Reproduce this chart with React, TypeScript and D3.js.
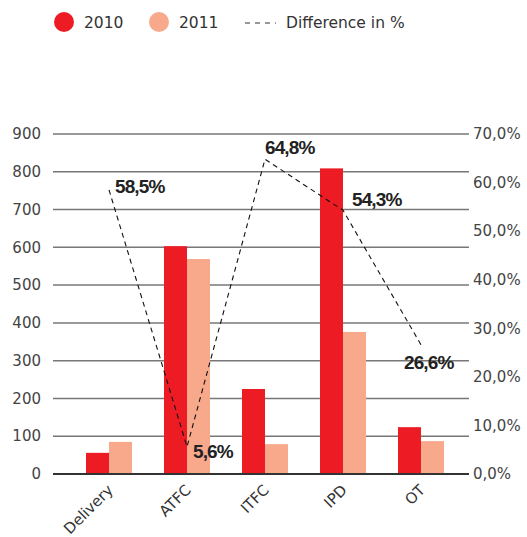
import React from "react";
import * as d3 from "d3";

const categories = ["Delivery", "ATFC", "ITFC", "IPD", "OT"];
const values2010 = [56, 603, 225, 809, 124];
const values2011 = [85, 569, 79, 376, 87];
const diffPct = [58.5, 5.6, 64.8, 54.3, 26.6];
const leftTicks = [0, 100, 200, 300, 400, 500, 600, 700, 800, 900];
const rightTicks = [0, 10, 20, 30, 40, 50, 60, 70];
const labelOffsets: [number, number][] = [[6, 3], [6, 11], [0, -5], [9, -4], [-17, 24]];

const W = 527, H = 537;
const RED = "#ED1C24", SALMON = "#F8A98C";

export default function App() {
  const y = d3.scaleLinear().domain([0, 900]).range([474, 134]);
  const yR = d3.scaleLinear().domain([0, 70]).range([474, 134]);
  const x = d3.scaleBand().domain(categories).range([70, 460]).paddingInner(0.41).paddingOuter(0.205);
  const bw = 23;
  const cx = (c: string) => (x(c) as number) + x.bandwidth() / 2;
  const line = d3.line<number>().x((_, i) => cx(categories[i])).y((d) => yR(d));
  const fmt = (v: number) => v.toFixed(1).replace(".", ",") + "%";
  const font = "'DejaVu Sans', sans-serif";
  return (
    <svg width={W} height={H} style={{ position: "absolute", left: 0, top: 0, background: "#fff" }} fontFamily={font}>
      {/* legend */}
      <circle cx={64} cy={22} r={10} fill={RED} />
      <text x={84} y={28} fontSize={15.5} fill="#333">2010</text>
      <circle cx={159} cy={22} r={10} fill={SALMON} />
      <text x={179} y={28} fontSize={15.5} fill="#333">2011</text>
      <line x1={245} x2={276} y1={23} y2={23} stroke="#333" strokeWidth={1.2} strokeDasharray="5,5" />
      <text x={286} y={28} fontSize={15.5} fill="#333">Difference in %</text>
      {/* grid */}
      {leftTicks.map((t) => (
        <g key={t}>
          <line x1={53} x2={469} y1={y(t)} y2={y(t)} stroke={t === 0 ? "#333" : "#777"} strokeWidth={t === 0 ? 2 : 1.5} />
          <text x={41} y={y(t)} dy="0.35em" textAnchor="end" fontSize={15} fill="#444">{t}</text>
        </g>
      ))}
      {rightTicks.map((t) => (
        <text key={t} x={473} y={yR(t)} dy="0.35em" fontSize={15} fill="#444">{fmt(t)}</text>
      ))}
      {/* bars */}
      {categories.map((c, i) => (
        <g key={c}>
          <rect x={cx(c) - bw} y={y(values2010[i])} width={bw} height={y(0) - y(values2010[i])} fill={RED} />
          <rect x={cx(c)} y={y(values2011[i])} width={bw} height={y(0) - y(values2011[i])} fill={SALMON} />
        </g>
      ))}
      <line x1={53} x2={469} y1={y(0)} y2={y(0)} stroke="#333" strokeWidth={2} />
      {/* line */}
      <path d={line(diffPct) || ""} fill="none" stroke="#111" strokeWidth={1.1} strokeDasharray="5,4" />
      {diffPct.map((v, i) => (
        <text key={i} x={cx(categories[i]) + labelOffsets[i][0]} y={yR(v) + labelOffsets[i][1]}
          fontSize={19} fontWeight="bold" fontFamily="'Liberation Sans', Arial, sans-serif" letterSpacing={-0.9} fill="#222">
          {fmt(v)}
        </text>
      ))}
      {/* x labels */}
      {categories.map((c) => (
        <text key={c} transform={`translate(${cx(c) + 5},${491}) rotate(-45)`} textAnchor="end" fontSize={15} fill="#333">
          {c}
        </text>
      ))}
    </svg>
  );
}
